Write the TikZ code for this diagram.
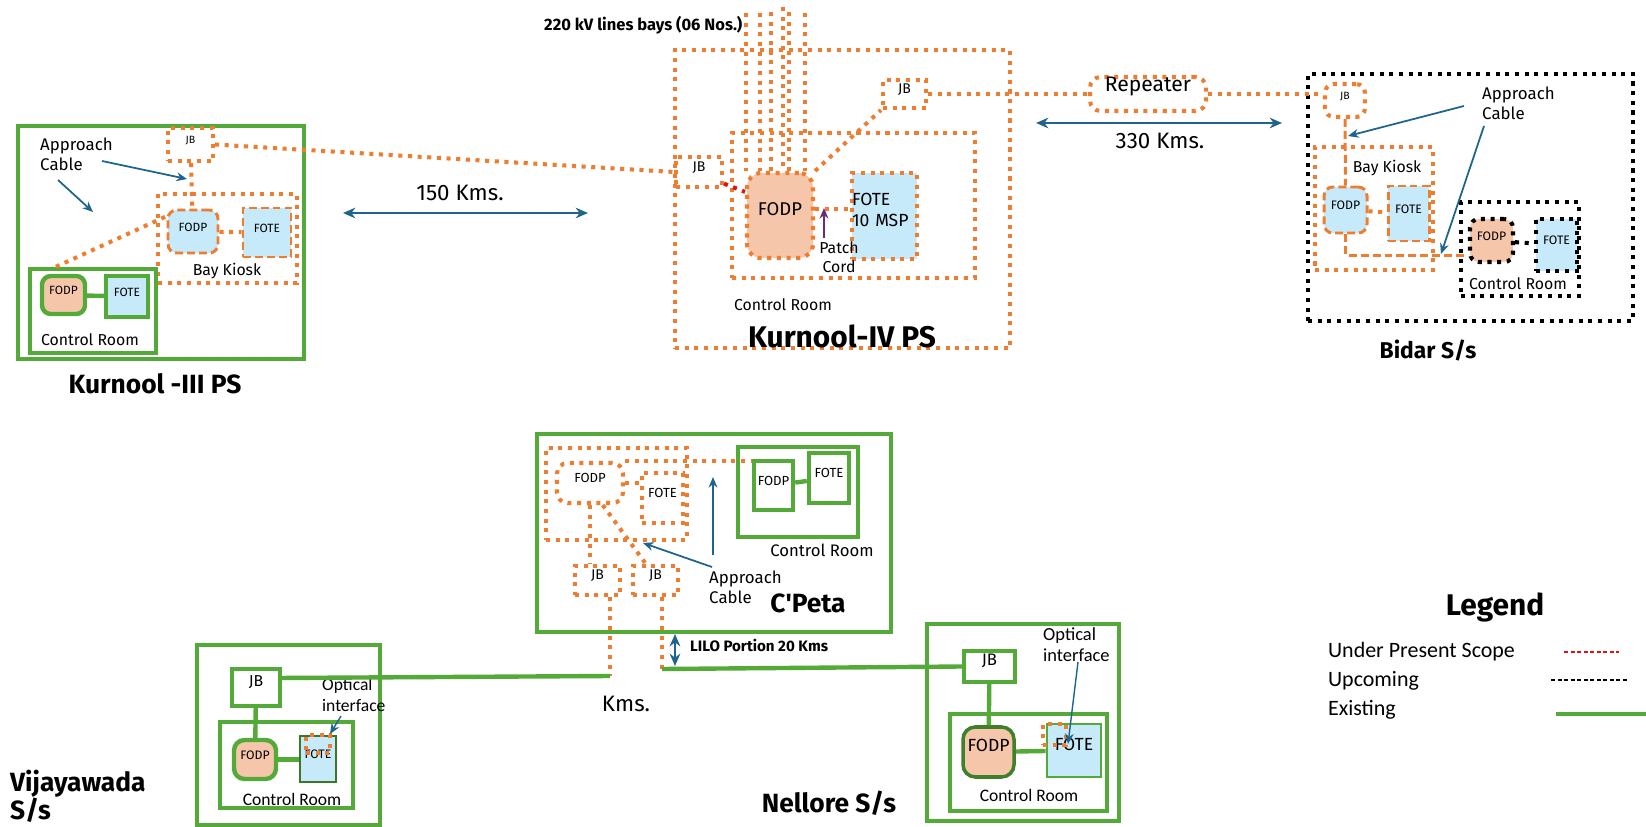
\documentclass[tikz,border=0pt]{standalone}
\usepackage{fontspec}
\setmainfont{Fira Sans}
\newfontfamily\carl{Carlito}
\usepackage{xcolor}
\definecolor{orng}{RGB}{237,125,49}
\definecolor{grn}{RGB}{84,170,56}
\definecolor{lblue}{RGB}{199,234,250}
\definecolor{salmon}{RGB}{246,198,170}
\definecolor{cblue}{RGB}{31,100,140}
\definecolor{purp}{RGB}{112,40,120}
\definecolor{redl}{RGB}{225,20,20}
\usepackage{tikz}
\usetikzlibrary{arrows.meta, positioning, fit, calc}
\newcommand{\fsz}[2]{\fontsize{#1}{#2}\selectfont}

\begin{document}
\begin{tikzpicture}[x=0.02cm, y=-0.02cm,
        cable/.style={draw=orng, line width=2.3pt, dash pattern=on 2.3pt off 3.2pt},
        cabled/.style={draw=orng, line width=1.7pt, dash pattern=on 4.5pt off 2.3pt},
        redcab/.style={draw=redl, line width=2.3pt, dash pattern=on 2.3pt off 3.2pt},
        newcab/.style={draw=black, line width=2.3pt, dash pattern=on 2.3pt off 3.2pt},
        exist/.style={draw=grn, line width=2.5pt},
        unit/.style={rectangle, inner sep=0pt, fit={#1}},
        lbl/.style={font=\fsz{9}{11}, align=center},
        dist/.style={font=\fsz{12.7}{15}},
        ttl/.style={font=\bfseries\fsz{15}{17}},
        arrow/.style={-{Stealth[length=6pt, width=5pt]}, line width=1pt, color=cblue},
        span/.style={{Stealth[length=7pt, width=6pt]}-{Stealth[length=7pt, width=6pt]}, line width=1.7pt, color=cblue}
    ]
    \useasboundingbox (0,0) rectangle (1646,827);

    \node[unit={(18,126)(304,359)}, exist] (k3) {};
    \node[unit={(168,128)(213,161)}, cable, font=\fsz{6}{7}] (k3jb) {JB};
    \node[unit={(158,194)(297,283)}, cable] (k3kiosk) {};
    \node[unit={(168,210)(218,253)}, cabled, fill=lblue, rounded corners=5pt, font=\fsz{6.8}{8}] (k3fodp) {FODP};
    \node[unit={(243,208)(291,257)}, cabled, fill=lblue, font=\fsz{6.8}{8}] (k3fote) {FOTE};
    \node[lbl] (k3kiosklbl) at (227,271) {Bay Kiosk};
    \node[unit={(30,269)(156,353)}, exist] (k3cr) {};
    \node[unit={(42,276)(85,314)}, exist, fill=salmon, rounded corners=5pt, font=\fsz{6.8}{8}] (k3crfodp) {FODP};
    \node[unit={(106,276)(148,317)}, exist, fill=lblue, font=\fsz{6.8}{8}] (k3crfote) {FOTE};
    \node[lbl] (k3crlbl) at (90,340) {Control Room};
    \node[anchor=west, align=left, font=\fsz{9.6}{11.5}] (k3app) at (34,154) {Approach\\Cable};
    \node[ttl] (k3name) at (155,384) {Kurnool -III PS};
    \coordinate (k3a1) at (102,161);
    \coordinate (k3a1e) at (187,179);
    \coordinate (k3a2) at (58,180);
    \coordinate (k3a2e) at (93,212);

    \coordinate (d150l) at (343,213);
    \coordinate (d150r) at (588,213);
    \node[dist] (d150) at (460,193) {150 Kms.};

    \node[unit={(675,50)(1010,348)}, cable] (k4) {};
    \node[unit={(732,133)(975,278)}, cable] (k4cr) {};
    \node[unit={(747,173)(813,258)}, cable, fill=salmon, rounded corners=8pt, font=\fsz{10.5}{12}] (k4fodp) {FODP};
    \node[unit={(852,173)(917,259)}, cable, fill=lblue, align=left, font=\fsz{10}{12}] (k4fote) {FOTE\\10 MSP};
    \node[unit={(676,157)(722,187)}, cable, font=\fsz{8}{9}] (k4jbl) {JB};
    \node[unit={(883,80)(926,108)}, cable, font=\fsz{8}{9}] (k4jbr) {JB};
    \node[anchor=west, font=\bfseries\fsz{9.4}{11}] (bays) at (538,25) {220 kV lines bays (06 Nos.)};
    \node[lbl] (patch) at (839,257) {Patch\\Cord};
    \coordinate (pc1) at (824,238);
    \coordinate (pc2) at (824,208);
    \node[lbl] (k4crlbl) at (783,305) {Control Room};
    \node[ttl, font=\bfseries\fsz{17}{20}] (k4name) at (842,336) {Kurnool-IV PS};

    \node[unit={(1090,77)(1206,111)}, cable, rounded corners=6pt, font=\fsz{12}{14}] (rep) {Repeater};
    \coordinate (d330l) at (1036,123);
    \coordinate (d330r) at (1282,123);
    \node[dist] (d330) at (1160,141) {330 Kms.};

    \node[unit={(1308,74)(1633,321)}, newcab] (bid) {};
    \node[unit={(1325,84)(1365,117)}, cable, rounded corners=5pt, font=\fsz{6}{7}] (bjb) {JB};
    \node[unit={(1315,147)(1433,270)}, cable] (bkiosk) {};
    \node[lbl] (bkiosklbl) at (1387,168) {Bay Kiosk};
    \node[unit={(1324,187)(1367,233)}, cabled, fill=lblue, rounded corners=5pt, font=\fsz{7}{8}] (bfodp) {FODP};
    \node[unit={(1388,186)(1429,241)}, cabled, fill=lblue, font=\fsz{7}{8}] (bfote) {FOTE};
    \node[unit={(1461,202)(1579,296)}, newcab] (bcr) {};
    \node[unit={(1470,219)(1513,262)}, newcab, fill=salmon, rounded corners=5pt, font=\fsz{7}{8}] (bcrfodp) {FODP};
    \node[unit={(1536,219)(1577,271)}, newcab, fill=lblue, font=\fsz{7}{8}] (bcrfote) {FOTE};
    \node[lbl] (bcrlbl) at (1518,284) {Control Room};
    \node[anchor=west, align=left, font=\fsz{9.6}{11.5}] (bapp) at (1476,103) {Approach\\Cable};
    \node[ttl, font=\bfseries\fsz{13}{15}] (bname) at (1428,350) {Bidar S/s};
    \coordinate (ba1) at (1464,106);
    \coordinate (ba1e) at (1348,136);
    \coordinate (ba2) at (1484,126);
    \coordinate (ba2e) at (1441,254);

    \node[unit={(537,434)(891,632)}, exist] (cp) {};
    \node[unit={(546,448)(687,540)}, cable] (ckiosk) {};
    \node[unit={(557,463)(623,503)}, cable, rounded corners=6pt, font=\fsz{7.5}{9}] (cfodp) {FODP};
    \node[unit={(642,473)(683,523)}, cable, font=\fsz{7.5}{9}] (cfote) {FOTE};
    \node[unit={(738,447)(858,537)}, exist] (ccr) {};
    \node[unit={(754,461)(793,510)}, exist, font=\fsz{7.5}{9}] (ccrfodp) {FODP};
    \node[unit={(809,453)(849,503)}, exist, font=\fsz{7.5}{9}] (ccrfote) {FOTE};
    \node[lbl, font=\fsz{9.5}{11}] (ccrlbl) at (822,550) {Control Room};
    \node[unit={(575,566)(620,595)}, cable, font=\fsz{8}{9}] (cjb1) {JB};
    \node[unit={(633,566)(678,595)}, cable, font=\fsz{8}{9}] (cjb2) {JB};
    \node[anchor=west, align=left, font=\fsz{9.6}{11.5}] (capp) at (703,587) {Approach\\Cable};
    \node[ttl] (cname) at (808,603) {C\textquotesingle Peta};
    \coordinate (ca1) at (712,567);
    \coordinate (ca1e) at (643,543);
    \coordinate (ca2) at (713,555);
    \coordinate (ca2e) at (713,477);
    \coordinate (vjoin) at (610,676);
    \coordinate (njoin) at (662,669);
    \coordinate (lilo1) at (675,634);
    \coordinate (lilo2) at (675,666);
    \node[anchor=west, font=\bfseries\fsz{8.6}{10}] (lilo) at (684,645) {LILO Portion 20 Kms};
    \node[dist] (kms) at (626,704) {Kms.};

    \node[unit={(197,645)(380,825)}, exist] (vj) {};
    \node[unit={(232,669)(280,706)}, exist, font=\fsz{9}{10}] (vjb) {JB};
    \node[unit={(220,722)(353,808)}, exist] (vcr) {};
    \node[unit={(234,740)(276,779)}, exist, fill=salmon, rounded corners=6pt, font=\fsz{7}{8}] (vfodp) {FODP};
    \node[unit={(300,736)(336,782)}, draw=grn!70!black, line width=1.5pt, fill=lblue, font=\fsz{7}{8}] (vfote) {FOTE};
    \node[unit={(306,735)(330,753)}, cable, line width=1.8pt] (voi) {};
    \node[anchor=west, align=left, font=\carl\fsz{10}{12}] (voilbl) at (316,695) {Optical\\interface};
    \coordinate (va1) at (341,716);
    \coordinate (va1e) at (330,734);
    \node[lbl, font=\carl\fsz{10}{12}] (vcrlbl) at (292,799) {Control Room};
    \node[ttl, anchor=west, align=left, font=\bfseries\fsz{15}{16}] (vname) at (4,796) {Vijayawada\\S/s};

    \node[unit={(927,624)(1119,821)}, exist] (nl) {};
    \node[unit={(964,651)(1015,682)}, exist, font=\fsz{9.5}{10}] (njb) {JB};
    \node[unit={(950,714)(1107,811)}, exist] (ncr) {};
    \node[unit={(963,727)(1014,777)}, draw=grn!75!black, line width=2pt, fill=salmon, rounded corners=7pt, font=\fsz{10}{12}] (nfodp) {FODP};
    \node[unit={(1047,724)(1101,777)}, exist, line width=1.6pt, fill=lblue, font=\fsz{10}{12}] (nfote) {FOTE};
    \node[unit={(1043,724)(1066,745)}, cable, line width=1.8pt] (noi) {};
    \node[anchor=west, align=left, font=\carl\fsz{10.5}{12}] (noilbl) at (1037,645) {Optical\\interface};
    \coordinate (na1) at (1078,662);
    \coordinate (na1e) at (1068,744);
    \node[lbl, font=\carl\fsz{10}{12}] (ncrlbl) at (1029,795) {Control Room};
    \node[ttl] (nname) at (829,803) {Nellore S/s};

    \node[ttl, font=\bfseries\fsz{17}{20}] (leg) at (1495,607) {Legend};
    \node[anchor=west, inner sep=1pt, font=\carl\fsz{12.5}{14}] (lg1) at (1326,652) {Under Present Scope};
    \node[anchor=west, inner sep=1pt, font=\carl\fsz{12.5}{14}] (lg2) at (1326,681) {Upcoming};
    \node[anchor=west, inner sep=1pt, font=\carl\fsz{12.5}{14}] (lg3) at (1326,710) {Existing};
    \coordinate (lg1a) at (1564,652);
    \coordinate (lg1b) at (1619,652);
    \coordinate (lg2a) at (1551,680);
    \coordinate (lg2b) at (1629,680);
    \coordinate (lg3a) at (1556,714);
    \coordinate (lg3b) at (1646,714);

    \draw[cable] (k3jb) -- (k3fodp);
    \draw[cable] (k3cr.130) -- (k3fodp.150);
    \draw[cable] (k3fodp) -- (k3fote);
    \draw[exist] (k3crfodp) -- (k3crfote);
    \draw[arrow] (k3a1) -- (k3a1e);
    \draw[arrow] (k3a2) -- (k3a2e);
    \draw[cable] (k3jb.east) -- (k4jbl.west);
    \draw[span] (d150l) -- (d150r);

    \foreach \bx/\by in {746/13, 760/13, 771/12, 783/7, 789/12, 805/13}
        \draw[cable] (\bx,\by) -- (\bx,\by |- k4fodp.north);
    \draw[redcab] (k4jbl.-25) -- (k4fodp.146);
    \draw[cable] (k4fodp.north east) -- (k4jbr.south west);
    \draw[cable] (k4fodp.11) -- (k4fodp.11 -| k4fote.west);
    \draw[arrow, color=purp] (pc1) -- (pc2);
    \draw[cable] (k4jbr.east) -- (rep.west);

    \draw[cable] (rep.east) -- (rep.east -| bjb.west);
    \draw[span] (d330l) -- (d330r);
    \draw[cabled] (bjb) -- (bfodp);
    \draw[cable] (bfodp) -- (bfote);
    \draw[cabled] (bfodp.south) |- (bcrfodp.212);
    \draw[newcab] (bcrfodp) -- (bcrfote);
    \draw[arrow] (ba1) -- (ba1e);
    \draw[arrow] (ba2) -- (ba2e);

    \draw[cable] (cfodp.north east) -- (cfodp.north east -| ccrfodp.west);
    \draw[cable] (cfodp.east) -- (cfodp.east -| cfote.west);
    \draw[exist] (ccrfodp) -- (ccrfote);
    \draw[cable] (cfodp.south) -- (cfodp.south |- cjb1.north);
    \draw[cable] (cfodp.-60) -- (cjb2.120);
    \draw[cable] (vjoin |- cjb1.south) -- (vjoin);
    \draw[cable] (njoin |- cjb2.south) -- (njoin);
    \draw[arrow] (ca1) -- (ca1e);
    \draw[arrow] (ca2) -- (ca2e);
    \draw[span, line width=1.4pt] (lilo1) -- (lilo2);

    \draw[exist] (vjb) -- (vfodp);
    \draw[exist] (vfodp.east) -- (vfodp.east -| vfote.west);
    \draw[exist] (vjb.20) -- (vjoin);
    \draw[arrow, line width=0.8pt] (va1) -- (va1e);

    \draw[exist] (njoin) -- (njb.west);
    \draw[exist] (njb) -- (nfodp);
    \draw[exist] (nfodp) -- (nfote);
    \draw[arrow, line width=0.8pt] (na1) -- (na1e);

    \draw[redl, line width=0.9pt, dash pattern=on 2.5pt off 1.2pt] (lg1a) -- (lg1b);
    \draw[black, line width=0.9pt, dash pattern=on 2.5pt off 1.2pt] (lg2a) -- (lg2b);
    \draw[grn, line width=2.5pt] (lg3a) -- (lg3b);
\end{tikzpicture}
\end{document}
